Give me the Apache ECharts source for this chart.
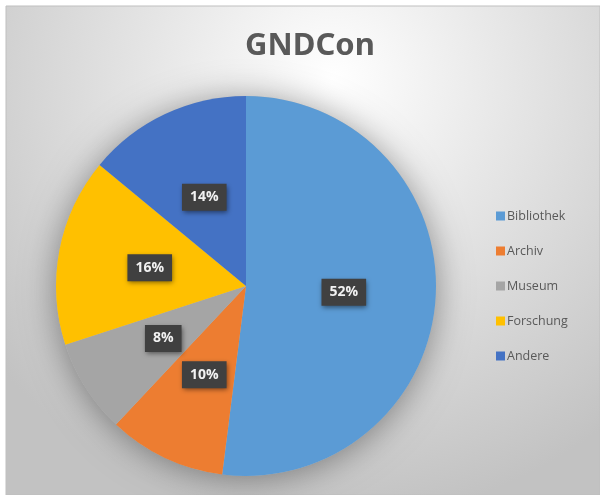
<!DOCTYPE html>
<html>
<head>
<meta charset="utf-8">
<script src="https://cdn.jsdelivr.net/npm/echarts@6/dist/echarts.min.js"></script>
<style>
  html, body { margin: 0; padding: 0; background: #fff; }
  #chart { width: 600px; height: 495px; }
</style>
</head>
<body>
<div id="chart"></div>
<script>
var categories = ["Bibliothek", "Archiv", "Museum", "Forschung", "Andere"];
var shares = [52, 10, 8, 16, 14];
var colors = ["#5B9BD5", "#ED7D31", "#A5A5A5", "#FFC000", "#4472C4"];

var myChart = echarts.init(document.getElementById("chart"));

var pieData = categories.map(function (name, i) {
    return { name: name, value: shares[i], itemStyle: { color: colors[i] } };
});

var option = {
    animation: false,
    graphic: [{
        type: "rect",
        z: -10,
        silent: true,
        shape: { x: 6, y: 6, width: 594, height: 489 },
        style: {
            fill: {
                type: "radial", x: 0.55, y: 0.15, r: 0.9,
                colorStops: [
                    { offset: 0, color: "#ffffff" },
                    { offset: 1, color: "#c2c2c2" }
                ]
            },
            stroke: "#bfbfbf",
            lineWidth: 1
        }
    }],
    title: {
        text: "GNDCon",
        left: 305,
        textAlign: "center",
        top: 26,
        textStyle: {
            fontFamily: "Noto Sans",
            fontSize: 31,
            fontWeight: "bold",
            color: "#595959"
        }
    },
    legend: {
        orient: "vertical",
        left: 491,
        top: 204,
        data: categories,
        icon: "rect",
        itemWidth: 9,
        itemHeight: 9,
        itemGap: 21,
        textStyle: {
            fontFamily: "Open Sans",
            fontSize: 12.5,
            lineHeight: 14,
            color: "#595959",
            padding: [0, 0, 0, -3]
        }
    },
    series: [
        {
            // soft shadow behind the pie
            type: "pie",
            silent: true,
            z: 1,
            center: [246, 286],
            radius: [0, 190],
            label: { show: false },
            labelLine: { show: false },
            data: [{ name: "", value: 1, itemStyle: { color: "#bbbbbb",
                shadowBlur: 34, shadowOffsetY: 3, shadowColor: "rgba(0,0,0,0.4)" } }]
        },
        {
            type: "pie",
            z: 2,
            center: [246, 286],
            radius: [0, 190],
            startAngle: 90,
            clockwise: true,
            itemStyle: { borderWidth: 0 },
            label: {
                position: "inside",
                formatter: "{c}%",
                fontFamily: "Open Sans",
                fontSize: 14,
                fontWeight: "bold",
                color: "#f2f2f2",
                backgroundColor: "#404040",
                padding: [7, 8, 6, 8],
                shadowBlur: 5,
                shadowColor: "rgba(0,0,0,0.5)",
                shadowOffsetX: 1,
                shadowOffsetY: 2
            },
            labelLine: { show: false },
            data: pieData
        }
    ]
};
myChart.setOption(option);
</script>
</body>
</html>
